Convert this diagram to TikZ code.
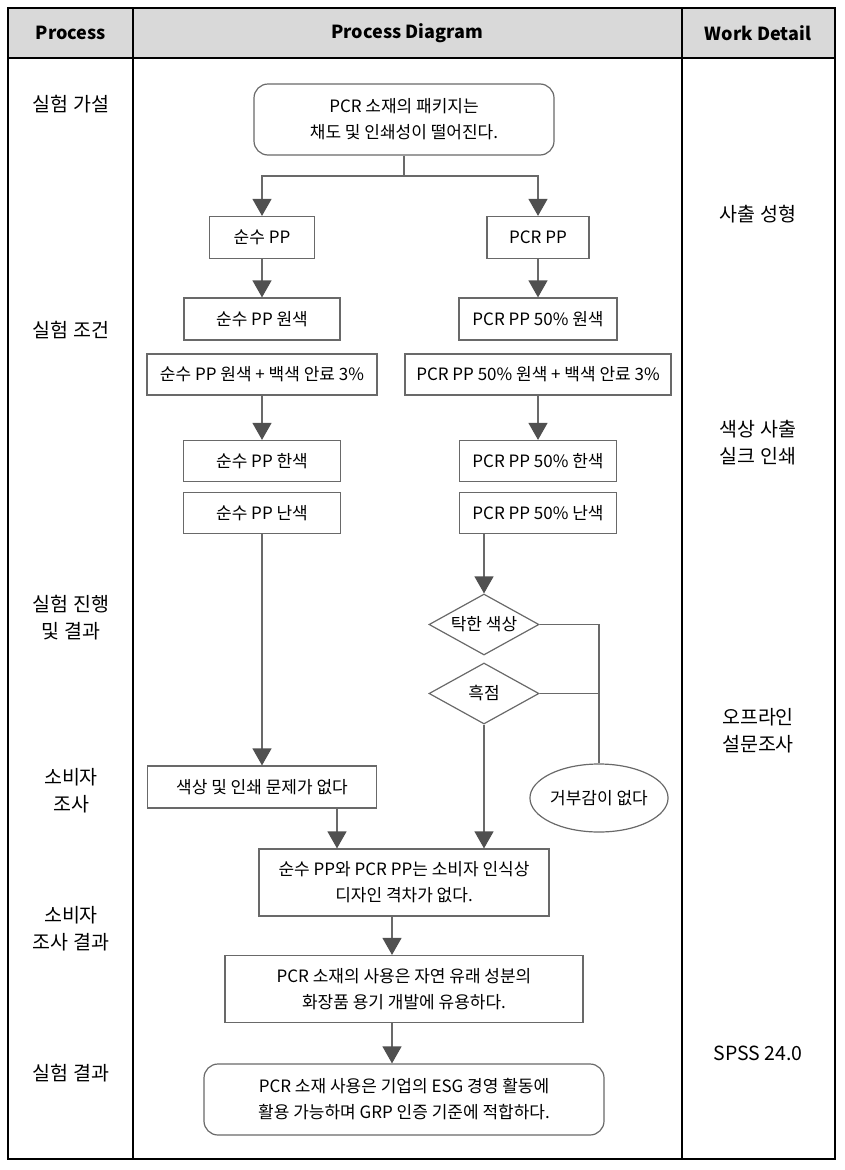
\documentclass[tikz,border=0pt]{standalone}
\usepackage{fontspec}
\setmainfont{Noto Sans CJK KR}
\usetikzlibrary{arrows.meta,shapes.geometric}
\definecolor{headgray}{RGB}{217,217,217}
\definecolor{linegray}{RGB}{105,105,105}
\definecolor{tipgray}{RGB}{80,80,80}

\begin{document}
\begin{tikzpicture}[x=1pt, y=-1pt,
        every node/.style={font=\fontsize{17}{26}\selectfont, align=center, inner sep=0pt},
        head/.style={font=\fontsize{18}{22}\selectfont\bfseries},
        side/.style={font=\fontsize{19.5}{27}\selectfont},
        box/.style={draw=linegray, line width=1.2pt, minimum height=42pt},
        roundbox/.style={box, rounded corners=14pt},
        choice/.style={draw=linegray, line width=1.2pt, diamond, aspect=1.8, minimum width=110pt, minimum height=61pt},
        answer/.style={draw=linegray, line width=1.2pt, ellipse, minimum width=136pt, minimum height=68pt},
        flow/.style={draw=linegray, line width=1.2pt},
        arr/.style={flow, -{Triangle[width=19pt, length=17pt, color=tipgray]}}]
        \useasboundingbox (0,0) rectangle (844,1170);
        \fill [headgray] (8,8) rectangle (835,58);
        \draw [line width=1.8pt] (8,8) rectangle (835,1159);
        \draw [line width=1.5pt] (8,58) -- (835,58);
        \draw [line width=1.5pt] (133,8) -- (133,1159);
        \draw [line width=1.5pt] (682,8) -- (682,1159);
        \node [head] (hproc) at (71,33) {Process};
        \node [head] (hdiag) at (407,33) {Process Diagram};
        \node [head] (hwork) at (758,33) {Work Detail};
        \node [side] (s1) at (71,104) {실험 가설};
        \node [side] (s2) at (71,330) {실험 조건};
        \node [side] (s3) at (71,618) {실험 진행\\및 결과};
        \node [side] (s4) at (71,791) {소비자\\조사};
        \node [side] (s5) at (71,929) {소비자\\조사 결과};
        \node [side] (s6) at (71,1073) {실험 결과};
        \node [side] (w1) at (758,214) {사출 성형};
        \node [side] (w2) at (758,443) {색상 사출\\실크 인쇄};
        \node [side] (w3) at (758,731) {오프라인\\설문조사};
        \node [side] (w4) at (758,1053) {SPSS 24.0};
        \node [roundbox, minimum width=300pt, minimum height=71pt] (top) at (404,119.5) {PCR 소재의 패키지는\\채도 및 인쇄성이 떨어진다.};
        \node [box, minimum width=105pt] (pp) at (262,237.5) {순수 PP};
        \node [box, minimum width=102pt] (pcr) at (538,237.5) {PCR PP};
        \node [box, minimum width=156pt] (ppraw) at (262,319) {순수 PP 원색};
        \node [box, minimum width=158pt] (pcrraw) at (538,319) {PCR PP 50\% 원색};
        \node [box, minimum width=230pt, minimum height=41pt] (ppwhite) at (262,374.5) {순수 PP 원색 + 백색 안료 3\%};
        \node [box, minimum width=266pt, minimum height=41pt] (pcrwhite) at (538,374.5) {PCR PP 50\% 원색 + 백색 안료 3\%};
        \node [box, minimum width=157pt, minimum height=41pt] (ppcool) at (262,461) {순수 PP 한색};
        \node [box, minimum width=157pt, minimum height=41pt] (pcrcool) at (538,461) {PCR PP 50\% 한색};
        \node [box, minimum width=157pt, minimum height=41pt] (ppwarm) at (262,513) {순수 PP 난색};
        \node [box, minimum width=157pt, minimum height=41pt] (pcrwarm) at (538,513) {PCR PP 50\% 난색};
        \node [choice] (dull) at (484,624.5) {탁한 색상};
        \node [choice] (dot) at (484,693.5) {흑점};
        \node [answer] (calm) at (599,798) {거부감이 없다};
        \node [box, minimum width=229pt] (nofault) at (262,787) {색상 및 인쇄 문제가 없다};
        \node [box, minimum width=290pt, minimum height=67pt] (result) at (404,882.5) {순수 PP와 PCR PP는 소비자 인식상\\디자인 격차가 없다.};
        \node [box, minimum width=358pt, minimum height=67pt] (useful) at (404,989) {PCR 소재의 사용은 자연 유래 성분의\\화장품 용기 개발에 유용하다.};
        \node [roundbox, minimum width=400pt, minimum height=71pt] (final) at (404,1099.5) {PCR 소재 사용은 기업의 ESG 경영 활동에\\활용 가능하며 GRP 인증 기준에 적합하다.};
        \coordinate (split) at (404,176);
        \coordinate (merge) at (599,624.5);
        \draw [flow] (top.south) -- (split);
        \draw [arr] (split) -| (pp);
        \draw [arr] (split) -| (pcr);
        \draw [arr] (pp) -- (ppraw);
        \draw [arr] (pcr) -- (pcrraw);
        \draw [arr] (ppwhite) -- (ppcool);
        \draw [arr] (pcrwhite) -- (pcrcool);
        \draw [arr] (ppwarm) -- (nofault);
        \draw [arr] (pcrwarm.south -| dull.north) -- (dull.north);
        \draw [flow] (dull.east) -- (merge) -- (calm.north);
        \draw [flow] (dot.east) -- (dot.east -| merge);
        \draw [arr] (dot.south) -- (dot.south |- result.north);
        \draw [arr] ([xshift=75pt]nofault.south) -- ([xshift=75pt]nofault.south |- result.north);
        \draw [arr] ([xshift=-12pt]result.south) -- ([xshift=-12pt]result.south |- useful.north);
        \draw [arr] ([xshift=-12pt]useful.south) -- ([xshift=-12pt]useful.south |- final.north);
    \end{tikzpicture}
\end{document}
